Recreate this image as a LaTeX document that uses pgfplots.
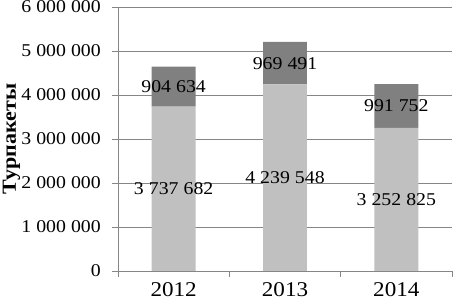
\documentclass[border=0pt]{standalone}
\usepackage{pgfplots}
\pgfplotsset{compat=1.18}
\usepackage{fontspec}
\setmainfont[FakeStretch=1.1]{Liberation Serif}
\definecolor{lightbar}{HTML}{C0C0C0}
\definecolor{darkbar}{HTML}{808080}
\definecolor{gridc}{HTML}{868686}
\begin{document}
\fontsize{18bp}{21bp}\selectfont
\begin{tikzpicture}
\pgfplotsset{
  common/.style={
    scale only axis, width=334bp, height=264bp,
    xmin=-0.5, xmax=2.5, ymin=0, ymax=6000000,
  }
}
\begin{axis}[
  common,
  ybar stacked, bar width=0.395,
  xtick={0,1,2}, xticklabels={2012,2013,2014},
  minor xtick={-0.5,0.5,1.5,2.5},
  ytick={0,1000000,2000000,3000000,4000000,5000000,6000000},
  scaled y ticks=false,
  /pgf/number format/fixed,
  /pgf/number format/precision=0,
  /pgf/number format/1000 sep={\hspace{0.28em}},
  /pgf/number format/assume math mode=true,
  axis x line*=bottom, axis y line*=left,
  axis line style={gridc, line width=0.9bp},
  ymajorgrids, major grid style={gridc, line width=0.9bp},
  tick align=outside,
  major tick length=6bp, minor tick length=6bp,
  ytick style={gridc, line width=0.9bp},
  major x tick style={draw=none},
  minor x tick style={gridc, line width=0.9bp},
  yticklabel style={font=\fontsize{18bp}{21bp}\selectfont, xshift=-5bp},
  xticklabel style={font=\fontsize{21bp}{24bp}\selectfont, yshift=1bp},
  ylabel={Турпакеты},
  ylabel style={font=\bfseries\fontsize{20bp}{22bp}\selectfont},
  ylabel shift=-11bp,
]
\addplot[fill=lightbar, draw=none] coordinates {(0,3737682) (1,4239548) (2,3252825)};
\addplot[fill=darkbar, draw=none] coordinates {(0,904634) (1,969491) (2,991752)};
\coordinate (bl) at (rel axis cs:0,0);
\end{axis}
\begin{axis}[common, hide axis]
\addplot[only marks, mark=none, nodes near coords, point meta=explicit symbolic,
  nodes near coords align={center},
  every node near coord/.append style={font=\fontsize{18bp}{21bp}\selectfont, text=black}]
coordinates {
(0,1868841) [3\hspace{0.28em}737\hspace{0.28em}682]
(1,2119774) [4\hspace{0.28em}239\hspace{0.28em}548]
(2,1626413) [3\hspace{0.28em}252\hspace{0.28em}825]
(0,4189999) [904\hspace{0.28em}634]
(1,4724294) [969\hspace{0.28em}491]
(2,3748701) [991\hspace{0.28em}752]
};
\end{axis}
\pgfresetboundingbox
\path[use as bounding box] ([shift={(-118bp,-30bp)}]bl) rectangle ++(456bp,301bp);
\end{tikzpicture}
\end{document}
